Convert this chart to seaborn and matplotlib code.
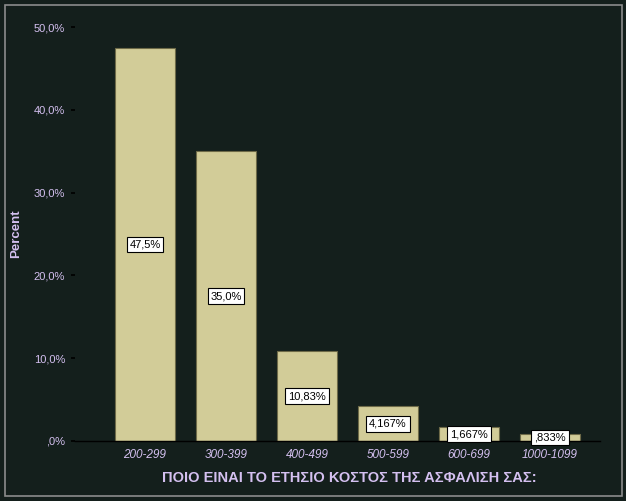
import matplotlib
matplotlib.use("Agg")
import matplotlib.pyplot as plt
import seaborn as sns
import pandas as pd
from matplotlib.patches import Rectangle

categories = ["200-299", "300-399", "400-499", "500-599", "600-699", "1000-1099"]
percents = [47.5, 35.0, 10.83, 4.167, 1.667, 0.833]
bar_labels = ["47,5%", "35,0%", "10,83%", "4,167%", "1,667%", ",833%"]
ytick_values = [0, 10, 20, 30, 40, 50]
ytick_labels = [",0%", "10,0%", "20,0%", "30,0%", "40,0%", "50,0%"]

df = pd.DataFrame({"cat": categories, "pct": percents})

sns.set_theme(style="white")
plt.rcParams['font.family'] = ['Liberation Sans', 'DejaVu Sans']

BG = "#141f1c"
TXT = "#d4c0f0"

fig = plt.figure(figsize=(6.26, 5.01), dpi=100)
fig.patch.set_facecolor(BG)
ax = fig.add_axes([75/626, 60/501, 525/626, 414/501])
ax.set_facecolor(BG)

sns.barplot(data=df, x="cat", y="pct", color="#d2cc98", width=0.74,
            saturation=1, edgecolor="#6e6a48", linewidth=0.8, ax=ax)

ax.set_xlim(-0.864, 5.617)
ax.set_ylim(0, 50)
ax.set_yticks(ytick_values)
ax.set_yticklabels(ytick_labels, color=TXT, fontsize=8)
ax.tick_params(axis='y', length=3, color="#000000", pad=4, left=True)
ax.tick_params(axis='x', length=0, pad=6)
for t in ax.get_xticklabels():
    t.set_color(TXT)
    t.set_fontstyle("italic")
    t.set_fontsize(8.5)

for s in ["top", "right", "left"]:
    ax.spines[s].set_visible(False)
ax.spines["bottom"].set_color("#000000")
ax.spines["bottom"].set_linewidth(1.0)

ax.set_ylabel("Percent", color=TXT, fontsize=9.5, fontweight="bold")
ax.yaxis.set_label_coords(-(75 - 22) / 525, 0.5)
ax.set_xlabel("ΠΟΙΟ ΕΙΝΑΙ ΤΟ ΕΤΗΣΙΟ ΚΟΣΤΟΣ ΤΗΣ ΑΣΦΑΛΙΣΗ ΣΑΣ:", color=TXT,
              fontsize=10.5, fontweight="bold")
ax.xaxis.set_label_coords((349 - 75) / 525, -(478 - 441) / 414)
ax.xaxis.label.set_va("center")

for i, (v, lab) in enumerate(zip(percents, bar_labels)):
    ax.text(i, v / 2, lab, ha="center", va="center", fontsize=8, color="black",
            bbox=dict(boxstyle="square,pad=0.25", facecolor="white", edgecolor="black", linewidth=0.8))

fig.add_artist(Rectangle((5/626, 5/501), 617/626, 491/501, transform=fig.transFigure,
                         fill=False, edgecolor="#8c8c8c", linewidth=1.2))

fig.savefig("out.png", dpi=100, facecolor=BG)
